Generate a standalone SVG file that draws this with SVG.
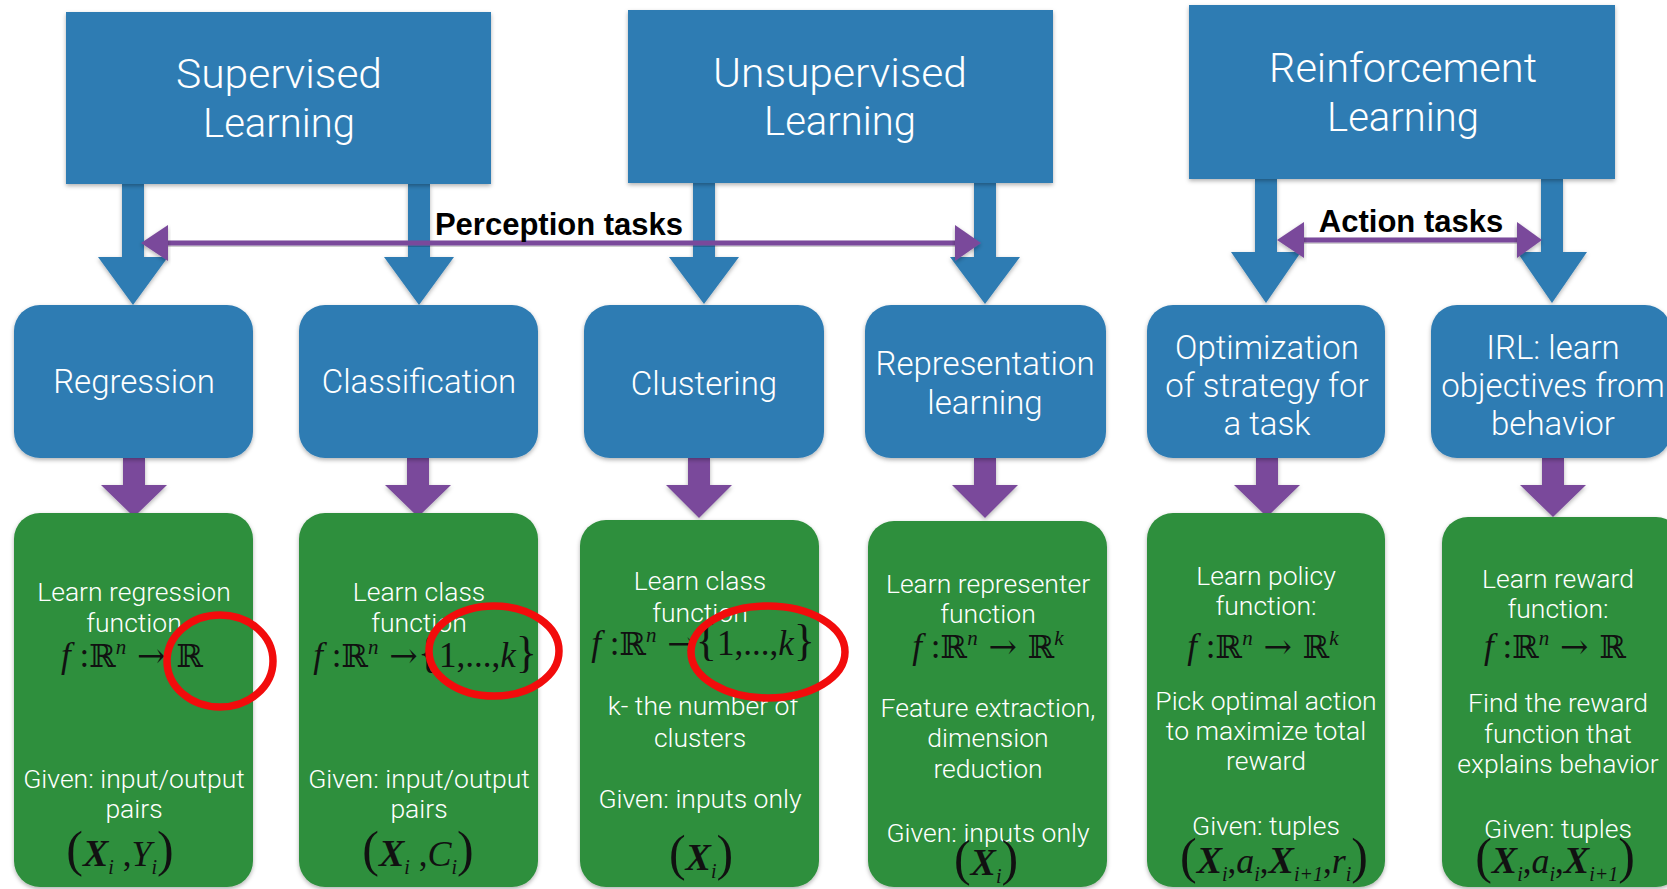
<svg xmlns="http://www.w3.org/2000/svg" width="1667" height="889" viewBox="0 0 1667 889">
  <defs>
    <filter id="shadow" x="-10%" y="-10%" width="120%" height="130%">
      <feDropShadow dx="0" dy="2" stdDeviation="2" flood-color="#000" flood-opacity="0.3"/>
    </filter>
    <style>
      .top { fill: #2f7cb3; filter: url(#shadow); }
      .mid { fill: #2f7cb3; filter: url(#shadow); }
      .out { fill: #2e8f3c; filter: url(#shadow); }
      .blueArrow { fill: #2f7cb3; filter: url(#shadow); }
      .purpleArrow { fill: #7a4a9b; filter: url(#shadow); }
      .title { font-family: Roboto, "Liberation Sans", sans-serif; font-weight: 300; font-size: 40px; fill: #fff; text-anchor: middle; }
      .label { font-family: Roboto, "Liberation Sans", sans-serif; font-weight: 300; font-size: 33px; fill: #fff; text-anchor: middle; }
      .body { font-family: Roboto, "Liberation Sans", sans-serif; font-weight: 300; font-size: 26.5px; fill: #fff; text-anchor: middle; }
      .task { font-family: "Liberation Sans", Arial, sans-serif; font-weight: bold; font-size: 31px; fill: #000; text-anchor: middle; }
      .m { font-family: "Liberation Serif", "DejaVu Serif", serif; font-size: 35px; fill: #111; text-anchor: middle; }
      .it { font-style: italic; }
      .bx { font-style: italic; font-weight: bold; font-size: 38px; }
      .iv { font-style: italic; font-size: 36px; }
      .bb { font-family: "DejaVu Serif", "DejaVu Sans", serif; font-size: 32px; }
      .arr { font-family: "DejaVu Serif", "DejaVu Sans", serif; font-size: 34px; }
      .sup { font-style: italic; font-size: 21px; }
      .sub { font-style: italic; font-size: 20px; }
      .par { font-size: 50px; }
      .brace { font-size: 44px; }
      .ring { fill: none; stroke: #f20c0c; stroke-width: 7.5; }
    </style>
  </defs>

  <rect width="1667" height="889" fill="#ffffff"/>

  <!-- connectors: block arrows and task ranges -->
  <g id="connectors">
    <!-- category to task arrows -->
    <path class="blueArrow" d="M122 184 H144 V257 H168 L133 305 L98 257 H122 Z"/>
    <path class="blueArrow" d="M408 184 H430 V257 H454 L419 305 L384 257 H408 Z"/>
    <path class="blueArrow" d="M693 183 H715 V257 H739 L704 304 L669 257 H693 Z"/>
    <path class="blueArrow" d="M974 183 H996 V257 H1020 L985 304 L950 257 H974 Z"/>
    <path class="blueArrow" d="M1255 179 H1277 V252 H1301 L1266 303 L1231 252 H1255 Z"/>
    <path class="blueArrow" d="M1541 179 H1563 V252 H1587 L1552 303 L1517 252 H1541 Z"/>

    <!-- task to formulation arrows -->
    <path class="purpleArrow" d="M123 458 H145 V485 H167 L134 517 L101 485 H123 Z"/>
    <path class="purpleArrow" d="M407 458 H429 V485 H451 L418 517 L385 485 H407 Z"/>
    <path class="purpleArrow" d="M688 458 H710 V485 H732 L699 518 L666 485 H688 Z"/>
    <path class="purpleArrow" d="M974 458 H996 V485 H1018 L985 518 L952 485 H974 Z"/>
    <path class="purpleArrow" d="M1256 458 H1278 V485 H1300 L1267 517 L1234 485 H1256 Z"/>
    <path class="purpleArrow" d="M1542 458 H1564 V485 H1586 L1553 517 L1520 485 H1542 Z"/>

    <!-- perception range -->
    <g id="perception-range">
      <rect class="purpleArrow" x="164" y="240.5" width="795" height="5"/>
      <polygon class="purpleArrow" points="141,243 168,225 168,261"/>
      <polygon class="purpleArrow" points="981,243 955,225 955,261"/>
      <text class="task" x="559" y="235">Perception tasks</text>
    </g>

    <!-- action range -->
    <g id="action-range">
      <rect class="purpleArrow" x="1300" y="237.5" width="221" height="5"/>
      <polygon class="purpleArrow" points="1277,240 1304,222 1304,258"/>
      <polygon class="purpleArrow" points="1542,240 1517,222 1517,258"/>
      <text class="task" x="1411" y="232">Action tasks</text>
    </g>
  </g>

  <!-- learning paradigms -->
  <g id="supervised">
    <rect class="top" x="66" y="12" width="425" height="172"/>
    <text class="title" x="279" y="88" textLength="206" lengthAdjust="spacingAndGlyphs">Supervised</text>
    <text class="title" x="279" y="137">Learning</text>
  </g>
  <g id="unsupervised">
    <rect class="top" x="628" y="10" width="425" height="173"/>
    <text class="title" x="840" y="87" textLength="254" lengthAdjust="spacingAndGlyphs">Unsupervised</text>
    <text class="title" x="840" y="135">Learning</text>
  </g>
  <g id="reinforcement">
    <rect class="top" x="1189" y="5" width="426" height="174"/>
    <text class="title" x="1403" y="82" textLength="268" lengthAdjust="spacingAndGlyphs">Reinforcement</text>
    <text class="title" x="1403" y="131">Learning</text>
  </g>

  <!-- tasks -->
  <g id="regression">
    <rect class="mid" x="14" y="305" width="239" height="153" rx="26"/>
    <text class="label" x="134" y="393">Regression</text>
  </g>
  <g id="classification">
    <rect class="mid" x="299" y="305" width="239" height="153" rx="26"/>
    <text class="label" x="419" y="393">Classification</text>
  </g>
  <g id="clustering">
    <rect class="mid" x="584" y="305" width="240" height="153" rx="26"/>
    <text class="label" x="704" y="395">Clustering</text>
  </g>
  <g id="representation">
    <rect class="mid" x="865" y="305" width="241" height="153" rx="26"/>
    <text class="label" x="985" y="375">Representation</text>
    <text class="label" x="985" y="414">learning</text>
  </g>
  <g id="optimization">
    <rect class="mid" x="1147" y="305" width="238" height="153" rx="26"/>
    <text class="label" x="1267" y="359">Optimization</text>
    <text class="label" x="1267" y="397">of strategy for</text>
    <text class="label" x="1267" y="435">a task</text>
  </g>
  <g id="irl">
    <rect class="mid" x="1431" y="305" width="240" height="153" rx="26"/>
    <text class="label" x="1553" y="359">IRL: learn</text>
    <text class="label" x="1553" y="397">objectives from</text>
    <text class="label" x="1553" y="435">behavior</text>
  </g>

  <!-- formulations -->
  <g id="regression-detail">
    <rect class="out" x="14" y="513" width="239" height="374" rx="26"/>
    <text class="body" x="134" y="601">Learn regression</text>
    <text class="body" x="134" y="632">function</text>
    <text class="m" x="132" y="667"><tspan class="it">f</tspan> :<tspan class="bb">ℝ</tspan><tspan class="sup" dy="-13">n</tspan><tspan class="arr" dy="13"> → </tspan><tspan class="bb">ℝ</tspan></text>
    <text class="body" x="134" y="788">Given: input/output</text>
    <text class="body" x="134" y="818">pairs</text>
    <text class="m" x="120" y="866"><tspan class="par">(</tspan><tspan class="bx">X</tspan><tspan class="sub" dy="8">i</tspan><tspan dy="-8"> ,</tspan><tspan class="iv">Y</tspan><tspan class="sub" dy="8">i</tspan><tspan class="par" dy="-8">)</tspan></text>
  </g>
  <g id="classification-detail">
    <rect class="out" x="299" y="513" width="239" height="374" rx="26"/>
    <text class="body" x="419" y="601">Learn class</text>
    <text class="body" x="419" y="632">function</text>
    <text class="m" x="425" y="667"><tspan class="it">f</tspan> :<tspan class="bb">ℝ</tspan><tspan class="sup" dy="-13">n</tspan><tspan class="arr" dy="13"> →</tspan><tspan class="brace">{</tspan>1,...,<tspan class="it">k</tspan><tspan class="brace">}</tspan></text>
    <text class="body" x="419" y="788">Given: input/output</text>
    <text class="body" x="419" y="818">pairs</text>
    <text class="m" x="418" y="866"><tspan class="par">(</tspan><tspan class="bx">X</tspan><tspan class="sub" dy="8">i</tspan><tspan dy="-8"> ,</tspan><tspan class="iv">C</tspan><tspan class="sub" dy="8">i</tspan><tspan class="par" dy="-8">)</tspan></text>
  </g>
  <g id="clustering-detail">
    <rect class="out" x="580" y="520" width="239" height="367" rx="26"/>
    <text class="body" x="700" y="590">Learn class</text>
    <text class="body" x="700" y="622">function</text>
    <text class="m" x="703" y="655"><tspan class="it">f</tspan> :<tspan class="bb">ℝ</tspan><tspan class="sup" dy="-13">n</tspan><tspan class="arr" dy="13"> →</tspan><tspan class="brace">{</tspan>1,...,<tspan class="it">k</tspan><tspan class="brace">}</tspan></text>
    <text class="body" x="703" y="715">k- the number of</text>
    <text class="body" x="700" y="747">clusters</text>
    <text class="body" x="700" y="808">Given: inputs only</text>
    <text class="m" x="701" y="870"><tspan class="par">(</tspan><tspan class="bx">X</tspan><tspan class="sub" dy="8">i</tspan><tspan class="par" dy="-8">)</tspan></text>
  </g>
  <g id="representation-detail">
    <rect class="out" x="868" y="521" width="239" height="366" rx="26"/>
    <text class="body" x="988" y="593">Learn representer</text>
    <text class="body" x="988" y="623">function</text>
    <text class="m" x="988" y="658"><tspan class="it">f</tspan> :<tspan class="bb">ℝ</tspan><tspan class="sup" dy="-13">n</tspan><tspan class="arr" dy="13"> → </tspan><tspan class="bb">ℝ</tspan><tspan class="sup" dy="-13">k</tspan></text>
    <text class="body" x="988" y="717">Feature extraction,</text>
    <text class="body" x="988" y="747">dimension</text>
    <text class="body" x="988" y="778">reduction</text>
    <text class="body" x="988" y="842">Given: inputs only</text>
    <text class="m" x="986" y="875"><tspan class="par">(</tspan><tspan class="bx">X</tspan><tspan class="sub" dy="8">i</tspan><tspan class="par" dy="-8">)</tspan></text>
  </g>
  <g id="optimization-detail">
    <rect class="out" x="1147" y="513" width="238" height="374" rx="26"/>
    <text class="body" x="1266" y="585">Learn policy</text>
    <text class="body" x="1266" y="615">function:</text>
    <text class="m" x="1263" y="658"><tspan class="it">f</tspan> :<tspan class="bb">ℝ</tspan><tspan class="sup" dy="-13">n</tspan><tspan class="arr" dy="13"> → </tspan><tspan class="bb">ℝ</tspan><tspan class="sup" dy="-13">k</tspan></text>
    <text class="body" x="1266" y="710">Pick optimal action</text>
    <text class="body" x="1266" y="740">to maximize total</text>
    <text class="body" x="1266" y="770">reward</text>
    <text class="body" x="1266" y="835">Given: tuples</text>
    <text class="m" x="1274" y="873"><tspan class="par">(</tspan><tspan class="bx">X</tspan><tspan class="sub" dy="8">i</tspan><tspan dy="-8">,</tspan><tspan class="iv">a</tspan><tspan class="sub" dy="8">i</tspan><tspan dy="-8">,</tspan><tspan class="bx">X</tspan><tspan class="sub" dy="8" font-style="normal">i</tspan><tspan class="sub" font-style="normal">+1</tspan><tspan dy="-8">,</tspan><tspan class="iv">r</tspan><tspan class="sub" dy="8">i</tspan><tspan class="par" dy="-8">)</tspan></text>
  </g>
  <g id="irl-detail">
    <rect class="out" x="1442" y="517" width="240" height="370" rx="26"/>
    <text class="body" x="1558" y="588">Learn reward</text>
    <text class="body" x="1558" y="618">function:</text>
    <text class="m" x="1555" y="658"><tspan class="it">f</tspan> :<tspan class="bb">ℝ</tspan><tspan class="sup" dy="-13">n</tspan><tspan class="arr" dy="13"> → </tspan><tspan class="bb">ℝ</tspan></text>
    <text class="body" x="1558" y="712">Find the reward</text>
    <text class="body" x="1558" y="743">function that</text>
    <text class="body" x="1558" y="773">explains behavior</text>
    <text class="body" x="1558" y="838">Given: tuples</text>
    <text class="m" x="1555" y="873"><tspan class="par">(</tspan><tspan class="bx">X</tspan><tspan class="sub" dy="8">i</tspan><tspan dy="-8">,</tspan><tspan class="iv">a</tspan><tspan class="sub" dy="8">i</tspan><tspan dy="-8">,</tspan><tspan class="bx">X</tspan><tspan class="sub" dy="8" font-style="normal">i</tspan><tspan class="sub" font-style="normal">+1</tspan><tspan class="par" dy="-8">)</tspan></text>
  </g>

  <!-- highlighted codomains -->
  <g id="highlights">
    <ellipse class="ring" cx="220" cy="661" rx="53" ry="46"/>
    <ellipse class="ring" cx="494" cy="651" rx="65" ry="45"/>
    <ellipse class="ring" cx="768" cy="652" rx="77" ry="46"/>
  </g>
</svg>
